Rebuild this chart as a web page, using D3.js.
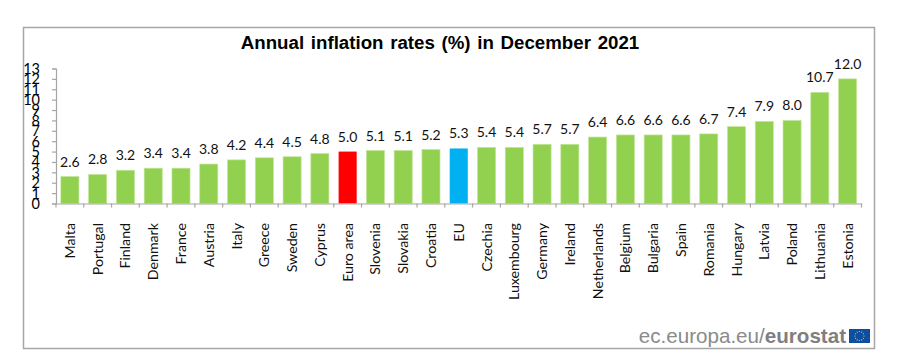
<!DOCTYPE html>
<html lang="en">
<head>
<meta charset="utf-8">
<title>Annual inflation rates</title>
<script src="https://cdn.jsdelivr.net/npm/d3@7"></script>
<style>
html, body {margin: 0; padding: 0; background: #fff;}
svg {display: block;}
text {font-family: Lato, sans-serif; fill: #111;}
.title {font-family: "Liberation Sans", Arial, sans-serif; font-weight: bold; font-size: 18.7px; fill: #000;}
.foot {font-family: "Liberation Sans", Arial, sans-serif; font-size: 20.6px; fill: #8a8a8a;}
.foot .b {font-weight: bold; fill: #7f7f7f;}
</style>
</head>
<body>
<svg width="898" height="364"></svg>
<script>
// donnees
var countries = ["Malta","Portugal","Finland","Denmark","France","Austria","Italy","Greece","Sweden","Cyprus","Euro area","Slovenia","Slovakia","Croatia","EU","Czechia","Luxembourg","Germany","Ireland","Netherlands","Belgium","Bulgaria","Spain","Romania","Hungary","Latvia","Poland","Lithuania","Estonia"];
var rates = [2.6,2.8,3.2,3.4,3.4,3.8,4.2,4.4,4.5,4.8,5.0,5.1,5.1,5.2,5.3,5.4,5.4,5.7,5.7,6.4,6.6,6.6,6.6,6.7,7.4,7.9,8.0,10.7,12.0];
var yTicks = d3.range(0, 14);
var highlight = {"Euro area": "#ff0000", "EU": "#00b0f0"};

var svg = d3.select("svg");

// cadre
svg.append("rect")
	.attr("x", 23.5).attr("y", 27.5)
	.attr("width", 851).attr("height", 321)
	.attr("fill", "#fff").attr("stroke", "#a6a6a6").attr("stroke-width", 1.5);

svg.append("text").attr("class", "title")
	.attr("x", 440).attr("y", 49)
	.attr("text-anchor", "middle")
	.attr("word-spacing", 1.5)
	.text("Annual inflation rates (%) in December 2021");

var x = d3.scaleBand().domain(countries).range([56, 861.5]).paddingInner(0.35).paddingOuter(0.175);
var y = d3.scaleLinear().domain([0, 13]).range([203.5, 68.5]);

// barres
svg.append("g").selectAll("rect")
	.data(countries)
	.enter()
	.append("rect")
		.attr("x", function(d) { return x(d); })
		.attr("y", function(d, i) { return y(rates[i]); })
		.attr("width", x.bandwidth())
		.attr("height", function(d, i) { return y(0) - y(rates[i]); })
		.attr("fill", function(d) { return highlight[d] || "#92d050"; })
		.attr("stroke", function(d) { return highlight[d] ? "none" : "#c2e59a"; })
		.attr("stroke-width", 0.7);

// axes
var axisY = svg.append("g")
	.attr("transform", "translate(56,0)")
	.call(d3.axisLeft(y).tickValues(yTicks).tickSize(4).tickPadding(12));
axisY.selectAll("text").style("font-size", "14.5px").style("fill", "#000").attr("dy", "0.34em");

var axisX = svg.append("g")
	.attr("transform", "translate(0,203.5)")
	.call(d3.axisBottom(x).tickSize(0).tickFormat(""));
axisX.selectAll(".tick").remove();

// graduations entre les barres
axisX.selectAll("line.sep")
	.data(d3.range(0, countries.length + 1))
	.enter()
	.append("line")
		.attr("class", "sep")
		.attr("x1", function(d) { return 56 + d * x.step(); })
		.attr("x2", function(d) { return 56 + d * x.step(); })
		.attr("y1", 0).attr("y2", 4);

svg.selectAll(".domain, .tick line, line.sep").attr("stroke", "#a6a6a6").attr("stroke-width", 1.2);

// etiquettes pays
svg.append("g").selectAll("text")
	.data(countries)
	.enter()
	.append("text")
		.attr("text-anchor", "end")
		.attr("font-size", 14.2)
		.attr("transform", function(d) {
			return "translate(" + (x(d) + x.bandwidth() / 2 + 5) + ",223) rotate(-90)";
		})
		.text(function(d) { return d; });

// valeurs
svg.append("g").selectAll("text")
	.data(rates)
	.enter()
	.append("text")
		.attr("text-anchor", "middle")
		.attr("font-size", 14)
		.attr("x", function(d, i) { return x(countries[i]) + x.bandwidth() / 2; })
		.attr("y", function(d) { return y(d) - 10; })
		.text(function(d) { return d.toFixed(1); });

// pied de page
var foot = svg.append("text").attr("class", "foot")
	.attr("x", 846).attr("y", 343)
	.attr("text-anchor", "end");
foot.append("tspan").text("ec.europa.eu/");
foot.append("tspan").attr("class", "b").text("eurostat");

svg.append("rect")
	.attr("x", 849).attr("y", 329)
	.attr("width", 21).attr("height", 14)
	.attr("fill", "#0b4ea2");
svg.append("g").selectAll("circle")
	.data(d3.range(12))
	.enter()
	.append("circle")
		.attr("r", 0.6)
		.attr("cx", function(d) { return 859.5 + 4.5 * Math.cos(d * Math.PI / 6); })
		.attr("cy", function(d) { return 336 + 4.5 * Math.sin(d * Math.PI / 6); })
		.attr("fill", "#ffd617");
</script>
</body>
</html>
